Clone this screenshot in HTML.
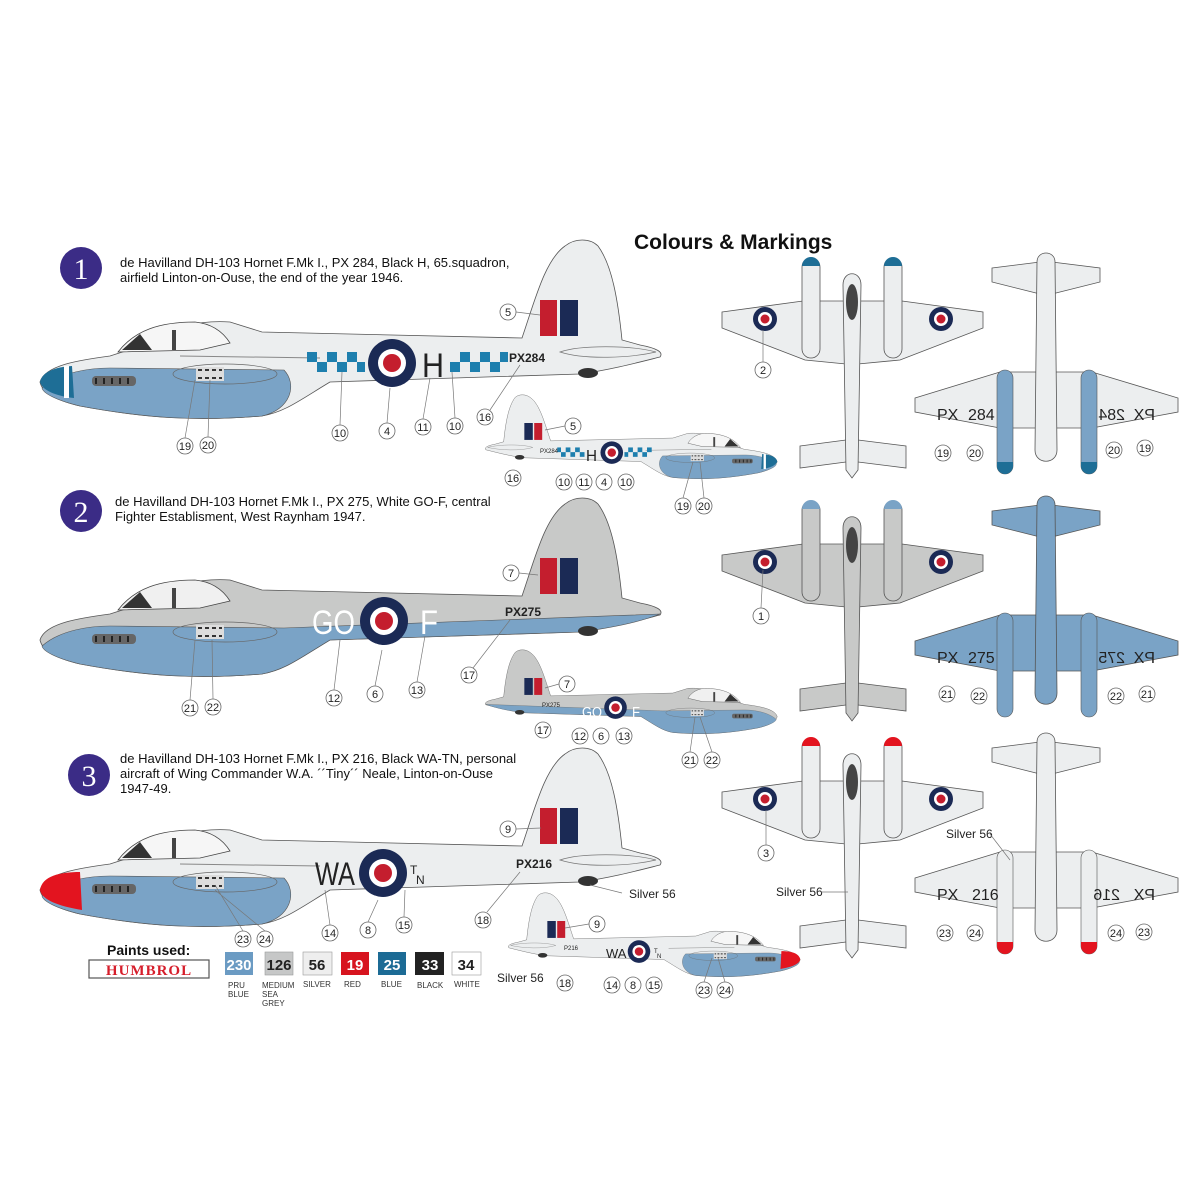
<!DOCTYPE html>
<html><head><meta charset="utf-8"><style>
html,body{margin:0;padding:0;background:#fff;}
svg{display:block;font-family:"Liberation Sans",Arial,sans-serif;}
.c circle{fill:#fff;stroke:#666;stroke-width:0.8}
.c text{font-size:11px;text-anchor:middle;fill:#222}
.ln{stroke:#777;stroke-width:0.7;fill:none}
</style></head><body>
<svg width="1198" height="1200" viewBox="0 0 1198 1200" xmlns="http://www.w3.org/2000/svg">
<defs>
 <g id="roundel"><circle r="24" fill="#1b2a55"/><circle r="14" fill="#fff"/><circle r="9" fill="#c41e2e"/></g>
 <g id="body">
  <path d="M40,382 C45,365 80,360 110,356 L150,343 C170,327 200,320 230,322 L262,332 L522,338 C535,300 545,260 565,246 C575,238 590,238 598,246 C612,265 618,300 622,340 L640,345 C656,348 664,352 660,357 C640,362 610,370 580,374 L330,382 C300,400 285,412 262,416 C200,421 150,419 80,406 C55,400 42,392 40,382 Z" fill="#eceeef" stroke="#555" stroke-width="0.8"/>
  <path d="M118,352 C135,330 160,322 195,322 C215,324 225,335 230,343 L200,350 Z" fill="#f6f6f6" stroke="#444" stroke-width="0.8"/>
  <path d="M122,350 L140,334 L152,350 Z" fill="#333"/>
  <rect x="172" y="330" width="4" height="20" fill="#444"/>
  <path d="M560,352 C580,345 630,345 656,352 C630,358 585,360 560,352Z" fill="none" stroke="#777" stroke-width="0.7"/>
  <path d="M180,356 L320,358" stroke="#888" stroke-width="1"/>
  <ellipse cx="588" cy="373" rx="10" ry="5" fill="#333"/>
 </g>
 <path id="under" d="M42,388 C60,372 90,368 110,368 L284,370 C298,385 290,410 262,416 C200,421 150,419 80,406 C55,400 43,393 42,388Z" fill="#7aa3c6" stroke="#555" stroke-width="0.6"/>
 <g id="guns"><rect x="92" y="376" width="44" height="10" rx="4" fill="#666"/><path d="M96,378 l0,6 M104,378 l0,6 M112,378 l0,6 M120,378 l0,6 M128,378 l0,6" stroke="#222" stroke-width="2"/>
  <ellipse cx="225" cy="374" rx="52" ry="10" fill="none" stroke="#666" stroke-width="0.7"/><rect x="196" y="367" width="28" height="14" fill="#ddd"/><path d="M198,370 h24 M198,378 h24" stroke="#333" stroke-width="2" stroke-dasharray="4 3"/></g>
 <g id="fin1"><rect x="540" y="300" width="17" height="36" fill="#c41e2e"/><rect x="560" y="300" width="18" height="36" fill="#1b2a55"/></g>
 <g id="p1">
  <use href="#body"/><use href="#under"/>
  <path d="M40,382 C42,372 55,367 72,366 L74,398 C55,396 42,390 40,382Z" fill="#1e6e96"/>
  <rect x="64" y="366" width="5" height="32" fill="#fff"/>
  <use href="#guns"/><use href="#fin1"/>
  <use href="#roundel" x="392" y="363"/>
  <g fill="#1e7fae"><rect x="307" y="352" width="10" height="10"/><rect x="327" y="352" width="10" height="10"/><rect x="347" y="352" width="10" height="10"/><rect x="317" y="362" width="10" height="10"/><rect x="337" y="362" width="10" height="10"/><rect x="357" y="362" width="8" height="10"/>
  <rect x="450" y="362" width="10" height="10"/><rect x="470" y="362" width="10" height="10"/><rect x="490" y="362" width="10" height="10"/><rect x="460" y="352" width="10" height="10"/><rect x="480" y="352" width="10" height="10"/><rect x="500" y="352" width="8" height="10"/></g>
 </g>
 <g id="p2">
  <path d="M40,382 C45,365 80,360 110,356 L150,343 C170,327 200,320 230,322 L262,332 L522,338 C535,300 545,260 565,246 C575,238 590,238 598,246 C612,265 618,300 622,340 L640,345 C656,348 664,352 660,357 C640,362 610,370 580,374 L330,382 C300,400 285,412 262,416 C200,421 150,419 80,406 C55,400 42,392 40,382 Z" fill="#c8c9c8" stroke="#555" stroke-width="0.8"/>
  <path d="M118,352 C135,330 160,322 195,322 C215,324 225,335 230,343 L200,350 Z" fill="#f0f0f0" stroke="#444" stroke-width="0.8"/>
  <path d="M122,350 L140,334 L152,350 Z" fill="#333"/>
  <rect x="172" y="330" width="4" height="20" fill="#444"/>
  <path d="M42,388 C60,372 90,368 110,368 L284,370 C330,368 500,362 660,356 C640,364 610,370 580,374 L330,382 C300,400 285,412 262,416 C200,421 150,419 80,406 C55,400 43,393 42,388Z" fill="#7aa3c6" stroke="#555" stroke-width="0.6"/>
  <use href="#guns"/><use href="#fin1"/>
  <ellipse cx="588" cy="373" rx="10" ry="5" fill="#333"/>
  <use href="#roundel" x="384" y="363"/>
 </g>
 <g id="p3">
  <use href="#body"/><use href="#under"/>
  <path d="M40,382 C42,368 60,364 80,364 L82,402 C58,398 42,392 40,382Z" fill="#e3141f"/>
  <use href="#guns"/><use href="#fin1"/>
  <use href="#roundel" x="383" y="365"/>
 </g>
 <g id="top">
  <path d="M722,312 L803,301 L902,301 L983,312 L983,328 L900,360 L858,364 L846,364 L805,360 L722,328 Z" fill="#eceeef" stroke="#555" stroke-width="0.8"/>
  <path d="M800,446 L846,440 L858,440 L906,446 L906,468 L858,462 L846,462 L800,468Z" fill="#eceeef" stroke="#555" stroke-width="0.8"/>
  <path d="M843,285 C843,270 861,270 861,285 L858,470 L852,478 L846,470Z" fill="#eceeef" stroke="#555" stroke-width="0.8"/>
  <ellipse cx="852" cy="302" rx="6" ry="18" fill="#444"/>
  <rect x="802" y="258" width="18" height="100" rx="9" fill="#eceeef" stroke="#555" stroke-width="0.8"/>
  <rect x="884" y="258" width="18" height="100" rx="9" fill="#eceeef" stroke="#555" stroke-width="0.8"/>
 </g>
 <g id="bot">
  <path d="M915,398 L1000,372 L1092,372 L1178,398 L1178,412 L1092,428 L1000,428 L915,412Z" fill="#eceeef" stroke="#555" stroke-width="0.8"/>
  <path d="M992,268 L1040,262 L1052,262 L1100,268 L1100,282 L1052,294 L1040,294 L992,282Z" fill="#eceeef" stroke="#555" stroke-width="0.8"/>
  <path d="M1037,262 C1037,250 1055,250 1055,262 L1057,450 C1057,465 1035,465 1035,450Z" fill="#eceeef" stroke="#555" stroke-width="0.8"/>
 </g>
 <g id="nac"><rect x="997" y="370" width="16" height="104" rx="8" fill="#7aa3c6" stroke="#555" stroke-width="0.6"/><rect x="1081" y="370" width="16" height="104" rx="8" fill="#7aa3c6" stroke="#555" stroke-width="0.6"/></g>
</defs>

<text x="634" y="249" font-size="21" font-weight="bold" fill="#111">Colours &amp; Markings</text>
<g font-size="13" fill="#111">
<text x="120" y="267">de Havilland DH-103 Hornet F.Mk I., PX 284, Black H, 65.squadron,</text>
<text x="120" y="282">airfield Linton-on-Ouse, the end of the year 1946.</text>
<text x="115" y="506">de Havilland DH-103 Hornet F.Mk I., PX 275, White GO-F, central</text>
<text x="115" y="521">Fighter Establisment, West Raynham 1947.</text>
<text x="120" y="763">de Havilland DH-103 Hornet F.Mk I., PX 216, Black WA-TN, personal</text>
<text x="120" y="778">aircraft of Wing Commander W.A. ´´Tiny´´ Neale, Linton-on-Ouse</text>
<text x="120" y="793">1947-49.</text>
</g>
<g font-family="Liberation Serif,serif" font-size="30" fill="#fff" text-anchor="middle">
<circle cx="81" cy="268" r="21" fill="#3b2c86"/><text x="81" y="279">1</text>
<circle cx="81" cy="511" r="21" fill="#3b2c86"/><text x="81" y="522">2</text>
<circle cx="89" cy="775" r="21" fill="#3b2c86"/><text x="89" y="786">3</text>
</g>

<use href="#p1"/>
<text x="422" y="377" font-size="34" fill="#222" textLength="22" lengthAdjust="spacingAndGlyphs">H</text>
<text x="509" y="362" font-size="12" font-weight="bold" fill="#222">PX284</text>
<use href="#p2" transform="translate(0,258)"/>
<text x="312" y="634" font-size="34" fill="#fff" textLength="43" lengthAdjust="spacingAndGlyphs">GO</text>
<text x="420" y="634" font-size="34" fill="#fff" textLength="18" lengthAdjust="spacingAndGlyphs">F</text>
<text x="505" y="616" font-size="12" font-weight="bold" fill="#222">PX275</text>
<use href="#p3" transform="translate(0,508)"/>
<text x="315" y="885" font-size="32" fill="#222" textLength="40" lengthAdjust="spacingAndGlyphs">WA</text>
<text x="410" y="874" font-size="12" fill="#222">T</text><text x="416" y="884" font-size="12" fill="#222">N</text>
<text x="516" y="868" font-size="12" font-weight="bold" fill="#222">PX216</text>

<use href="#p1" transform="translate(796,282) scale(-0.47,0.47)"/>
<text x="586" y="461" font-size="16" fill="#222" textLength="11" lengthAdjust="spacingAndGlyphs">H</text>
<text x="540" y="453" font-size="6" fill="#222">PX284</text>
<use href="#p2" transform="translate(796,537) scale(-0.47,0.47)"/>
<text x="582" y="717" font-size="15" fill="#fff" textLength="20" lengthAdjust="spacingAndGlyphs">GO</text><text x="632" y="717" font-size="15" fill="#fff" textLength="8" lengthAdjust="spacingAndGlyphs">F</text>
<text x="542" y="707" font-size="6" fill="#222">PX275</text>
<use href="#p3" transform="translate(819,780) scale(-0.47,0.47)"/>
<text x="606" y="958" font-size="13" fill="#222">WA</text>
<text x="654" y="953" font-size="6" fill="#222">T</text><text x="657" y="958" font-size="6" fill="#222">N</text>
<text x="564" y="950" font-size="6" fill="#222">P216</text>

<use href="#top"/>
<path d="M802,266 a9,9 0 0 1 18,0Z M884,266 a9,9 0 0 1 18,0Z" fill="#1e6e96"/>
<use href="#roundel" transform="translate(765,319) scale(0.5)"/><use href="#roundel" transform="translate(941,319) scale(0.5)"/>
<g transform="translate(0,243)">
  <path d="M722,312 L803,301 L902,301 L983,312 L983,328 L900,360 L858,364 L846,364 L805,360 L722,328 Z" fill="#c8c9c8" stroke="#555" stroke-width="0.8"/>
  <path d="M800,446 L846,440 L858,440 L906,446 L906,468 L858,462 L846,462 L800,468Z" fill="#c8c9c8" stroke="#555" stroke-width="0.8"/>
  <path d="M843,285 C843,270 861,270 861,285 L858,470 L852,478 L846,470Z" fill="#c8c9c8" stroke="#555" stroke-width="0.8"/>
  <ellipse cx="852" cy="302" rx="6" ry="18" fill="#444"/>
  <rect x="802" y="258" width="18" height="100" rx="9" fill="#c8c9c8" stroke="#555" stroke-width="0.8"/>
  <rect x="884" y="258" width="18" height="100" rx="9" fill="#c8c9c8" stroke="#555" stroke-width="0.8"/>
  <path d="M802,266 a9,9 0 0 1 18,0Z M884,266 a9,9 0 0 1 18,0Z" fill="#7aa3c6"/>
  <use href="#roundel" transform="translate(765,319) scale(0.5)"/><use href="#roundel" transform="translate(941,319) scale(0.5)"/>
</g>
<g transform="translate(0,480)"><use href="#top"/>
  <path d="M802,266 a9,9 0 0 1 18,0Z M884,266 a9,9 0 0 1 18,0Z" fill="#e3141f"/>
  <use href="#roundel" transform="translate(765,319) scale(0.5)"/><use href="#roundel" transform="translate(941,319) scale(0.5)"/>
</g>

<use href="#bot"/><use href="#nac"/>
<path d="M997,462 h16 v4 a8,8 0 0 1 -16,0Z M1081,462 h16 v4 a8,8 0 0 1 -16,0Z" fill="#1e6e96"/>
<g transform="translate(0,243)">
  <path d="M915,398 L1000,372 L1092,372 L1178,398 L1178,412 L1092,428 L1000,428 L915,412Z" fill="#7aa3c6" stroke="#555" stroke-width="0.8"/>
  <path d="M992,268 L1040,262 L1052,262 L1100,268 L1100,282 L1052,294 L1040,294 L992,282Z" fill="#7aa3c6" stroke="#555" stroke-width="0.8"/>
  <path d="M1037,262 C1037,250 1055,250 1055,262 L1057,450 C1057,465 1035,465 1035,450Z" fill="#7aa3c6" stroke="#555" stroke-width="0.8"/>
  <use href="#nac"/>
</g>
<g transform="translate(0,480)"><use href="#bot"/>
  <rect x="997" y="370" width="16" height="104" rx="8" fill="#eceeef" stroke="#555" stroke-width="0.6"/><rect x="1081" y="370" width="16" height="104" rx="8" fill="#eceeef" stroke="#555" stroke-width="0.6"/>
  <path d="M997,462 h16 v4 a8,8 0 0 1 -16,0Z M1081,462 h16 v4 a8,8 0 0 1 -16,0Z" fill="#e3141f"/>
</g>
<g font-size="16" fill="#222">
 <text x="937" y="420">PX</text><text x="968" y="420">284</text>
 <text transform="translate(1155,420) scale(-1,1)">PX</text><text transform="translate(1125,420) scale(-1,1)">284</text>
 <text x="937" y="663">PX</text><text x="968" y="663">275</text>
 <text transform="translate(1155,663) scale(-1,1)">PX</text><text transform="translate(1125,663) scale(-1,1)">275</text>
 <text x="937" y="900">PX</text><text x="972" y="900">216</text>
 <text transform="translate(1155,900) scale(-1,1)">PX</text><text transform="translate(1120,900) scale(-1,1)">216</text>
</g>

<g font-size="12" fill="#222">
<text x="629" y="898">Silver 56</text><text x="497" y="982">Silver 56</text>
<text x="776" y="896">Silver 56</text><text x="946" y="838">Silver 56</text>
</g>

<g class="c">
<circle cx="508" cy="312" r="8"/><text x="508" y="316">5</text>
<circle cx="340" cy="433" r="8"/><text x="340" y="437">10</text>
<circle cx="387" cy="431" r="8"/><text x="387" y="435">4</text>
<circle cx="423" cy="427" r="8"/><text x="423" y="431">11</text>
<circle cx="455" cy="426" r="8"/><text x="455" y="430">10</text>
<circle cx="485" cy="417" r="8"/><text x="485" y="421">16</text>
<circle cx="185" cy="446" r="8"/><text x="185" y="450">19</text>
<circle cx="208" cy="445" r="8"/><text x="208" y="449">20</text>
<circle cx="573" cy="426" r="8"/><text x="573" y="430">5</text>
<circle cx="513" cy="478" r="8"/><text x="513" y="482">16</text>
<circle cx="564" cy="482" r="8"/><text x="564" y="486">10</text>
<circle cx="584" cy="482" r="8"/><text x="584" y="486">11</text>
<circle cx="604" cy="482" r="8"/><text x="604" y="486">4</text>
<circle cx="626" cy="482" r="8"/><text x="626" y="486">10</text>
<circle cx="683" cy="506" r="8"/><text x="683" y="510">19</text>
<circle cx="704" cy="506" r="8"/><text x="704" y="510">20</text>
<circle cx="763" cy="370" r="8"/><text x="763" y="374">2</text>
<circle cx="943" cy="453" r="8"/><text x="943" y="457">19</text>
<circle cx="975" cy="453" r="8"/><text x="975" y="457">20</text>
<circle cx="1114" cy="450" r="8"/><text x="1114" y="454">20</text>
<circle cx="1145" cy="448" r="8"/><text x="1145" y="452">19</text>
<circle cx="511" cy="573" r="8"/><text x="511" y="577">7</text>
<circle cx="469" cy="675" r="8"/><text x="469" y="679">17</text>
<circle cx="334" cy="698" r="8"/><text x="334" y="702">12</text>
<circle cx="375" cy="694" r="8"/><text x="375" y="698">6</text>
<circle cx="417" cy="690" r="8"/><text x="417" y="694">13</text>
<circle cx="190" cy="708" r="8"/><text x="190" y="712">21</text>
<circle cx="213" cy="707" r="8"/><text x="213" y="711">22</text>
<circle cx="567" cy="684" r="8"/><text x="567" y="688">7</text>
<circle cx="543" cy="730" r="8"/><text x="543" y="734">17</text>
<circle cx="580" cy="736" r="8"/><text x="580" y="740">12</text>
<circle cx="601" cy="736" r="8"/><text x="601" y="740">6</text>
<circle cx="624" cy="736" r="8"/><text x="624" y="740">13</text>
<circle cx="690" cy="760" r="8"/><text x="690" y="764">21</text>
<circle cx="712" cy="760" r="8"/><text x="712" y="764">22</text>
<circle cx="761" cy="616" r="8"/><text x="761" y="620">1</text>
<circle cx="947" cy="694" r="8"/><text x="947" y="698">21</text>
<circle cx="979" cy="696" r="8"/><text x="979" y="700">22</text>
<circle cx="1116" cy="696" r="8"/><text x="1116" y="700">22</text>
<circle cx="1147" cy="694" r="8"/><text x="1147" y="698">21</text>
<circle cx="508" cy="829" r="8"/><text x="508" y="833">9</text>
<circle cx="330" cy="933" r="8"/><text x="330" y="937">14</text>
<circle cx="368" cy="930" r="8"/><text x="368" y="934">8</text>
<circle cx="404" cy="925" r="8"/><text x="404" y="929">15</text>
<circle cx="483" cy="920" r="8"/><text x="483" y="924">18</text>
<circle cx="243" cy="939" r="8"/><text x="243" y="943">23</text>
<circle cx="265" cy="939" r="8"/><text x="265" y="943">24</text>
<circle cx="597" cy="924" r="8"/><text x="597" y="928">9</text>
<circle cx="565" cy="983" r="8"/><text x="565" y="987">18</text>
<circle cx="612" cy="985" r="8"/><text x="612" y="989">14</text>
<circle cx="633" cy="985" r="8"/><text x="633" y="989">8</text>
<circle cx="654" cy="985" r="8"/><text x="654" y="989">15</text>
<circle cx="704" cy="990" r="8"/><text x="704" y="994">23</text>
<circle cx="725" cy="990" r="8"/><text x="725" y="994">24</text>
<circle cx="766" cy="853" r="8"/><text x="766" y="857">3</text>
<circle cx="945" cy="933" r="8"/><text x="945" y="937">23</text>
<circle cx="975" cy="933" r="8"/><text x="975" y="937">24</text>
<circle cx="1116" cy="933" r="8"/><text x="1116" y="937">24</text>
<circle cx="1144" cy="932" r="8"/><text x="1144" y="936">23</text>
</g>
<g class="ln">
<path d="M516,312 L540,315 M340,425 L342,372 M387,423 L390,388 M423,419 L430,378 M455,418 L452,372 M490,410 L520,365 M185,438 L195,380 M208,437 L210,380"/>
<path d="M519,573 L538,575 M473,668 L510,620 M334,690 L340,640 M375,686 L382,650 M417,682 L425,636 M190,700 L195,640 M213,699 L212,640"/>
<path d="M516,829 L541,828 M330,925 L325,890 M368,922 L378,900 M404,917 L405,890 M487,912 L520,872 M243,931 L215,885 M265,931 L215,890"/>
<path d="M763,362 L763,330 M761,608 L763,570 M766,845 L766,810 M622,893 L590,885 M821,892 L848,892 M990,834 L1010,860"/>
<path d="M565,426 L545,430 M559,684 L545,688 M589,924 L565,928 M683,498 L693,462 M704,498 L700,462 M690,752 L695,717 M712,752 L700,717 M704,982 L712,958 M725,982 L718,958"/>
</g>

<text x="107" y="955" font-size="14" font-weight="bold" fill="#111">Paints used:</text>
<rect x="89" y="960" width="120" height="18" fill="#fff" stroke="#555" stroke-width="1.2"/>
<text x="149" y="975" font-family="Liberation Serif,serif" font-size="15" font-weight="bold" fill="#d61e2b" text-anchor="middle" letter-spacing="1">HUMBROL</text>
<g font-size="15" font-weight="bold" text-anchor="middle">
<rect x="225" y="952" width="28" height="23" fill="#6b9bc3"/><text x="239" y="970" fill="#fff">230</text>
<rect x="265" y="952" width="28" height="23" fill="#c6c7c7" stroke="#999" stroke-width="0.6"/><text x="279" y="970" fill="#222">126</text>
<rect x="303" y="952" width="29" height="23" fill="#eeeeee" stroke="#999" stroke-width="0.6"/><text x="317" y="970" fill="#222">56</text>
<rect x="341" y="952" width="28" height="23" fill="#d7141f"/><text x="355" y="970" fill="#fff">19</text>
<rect x="378" y="952" width="28" height="23" fill="#1c6b95"/><text x="392" y="970" fill="#fff">25</text>
<rect x="415" y="952" width="29" height="23" fill="#222"/><text x="430" y="970" fill="#fff">33</text>
<rect x="452" y="952" width="29" height="23" fill="#fff" stroke="#999" stroke-width="0.6"/><text x="466" y="970" fill="#222">34</text>
</g>
<g font-size="8" fill="#333">
<text x="228" y="988">PRU</text><text x="228" y="997">BLUE</text>
<text x="262" y="988">MEDIUM</text><text x="262" y="997">SEA</text><text x="262" y="1006">GREY</text>
<text x="303" y="987">SILVER</text><text x="344" y="987">RED</text><text x="381" y="987">BLUE</text><text x="417" y="988">BLACK</text><text x="454" y="987">WHITE</text>
</g>
</svg>
</body></html>
